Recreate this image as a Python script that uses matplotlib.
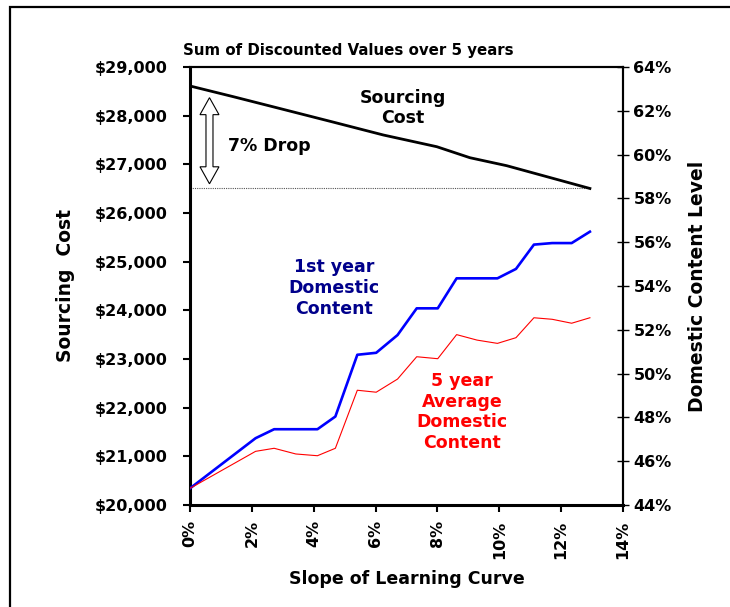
import numpy as np
import matplotlib
matplotlib.use('Agg')
import matplotlib.pyplot as plt
from matplotlib.patches import Polygon, Rectangle
from matplotlib.transforms import IdentityTransform
from matplotlib.ticker import FuncFormatter, MultipleLocator

# Sourcing cost (left axis, $)
cost_slope = [0.0, 1.40, 2.80, 4.58, 6.25, 7.98, 9.05, 10.24, 12.93]
cost_value = [28610, 28390, 28164, 27876, 27603, 27362, 27136, 26972, 26504]

# Domestic content (right axis, %) for both series
dc_slope = [0.0, 2.12, 2.72, 3.42, 4.12, 4.70, 5.41, 6.02, 6.71, 7.33,
            8.01, 8.62, 9.28, 9.94, 10.54, 11.12, 11.71, 12.34, 12.93]
first_year = [44.76, 47.05, 47.46, 47.46, 47.46, 48.04, 50.86, 50.95, 51.76, 52.98,
              52.98, 54.35, 54.35, 54.35, 54.78, 55.89, 55.96, 55.96, 56.48]
five_year_avg = [44.76, 46.45, 46.59, 46.33, 46.25, 46.59, 49.24, 49.15, 49.75, 50.77,
                 50.68, 51.78, 51.53, 51.38, 51.64, 52.55, 52.48, 52.30, 52.55]

plt.rcParams['font.family'] = ['DejaVu Sans']
plt.rcParams['font.weight'] = 'bold'

W, H = 730, 607
fig = plt.figure(figsize=(W / 100, H / 100), dpi=100)
ax = fig.add_axes([190 / W, 1 - 505 / H, 433 / W, 438 / H])
ax2 = ax.twinx()

# lines
ax.plot(cost_slope, cost_value, color='black', lw=2.0, zorder=3)
ax.axhline(cost_value[-1], xmin=0, xmax=cost_slope[-1] / 14, color='#555555',
           lw=0.8, ls=(0, (1, 1)), zorder=2)
ax2.plot(dc_slope, first_year, color='#0000FF', lw=1.9, zorder=3)
ax2.plot(dc_slope, five_year_avg, color='#FF0000', lw=0.8, zorder=3)

ax.set_xlim(0, 14)
ax.set_ylim(20000, 29000)
ax2.set_ylim(44, 64)

ax.xaxis.set_major_locator(MultipleLocator(2))
ax.yaxis.set_major_locator(MultipleLocator(1000))
ax2.yaxis.set_major_locator(MultipleLocator(2))
ax.xaxis.set_major_formatter(FuncFormatter(lambda v, p: f'{v:.0f}%'))
ax.yaxis.set_major_formatter(FuncFormatter(lambda v, p: f'${v:,.0f}'))
ax2.yaxis.set_major_formatter(FuncFormatter(lambda v, p: f'{v:.0f}%'))

tick_font = 11.5
ax.tick_params(axis='y', direction='out', length=5, width=1.5, pad=11, labelsize=tick_font)
ax.tick_params(axis='x', direction='out', length=5, width=1.5, pad=6, labelsize=tick_font,
               labelrotation=90)
ax2.tick_params(axis='y', direction='inout', length=9, width=1.0, pad=3, labelsize=tick_font)

for s in ['left', 'bottom']:
    ax.spines[s].set_linewidth(2.2)
for s in ['top', 'right']:
    ax.spines[s].set_linewidth(1.5)
    ax2.spines[s].set_linewidth(1.5)
ax2.spines['left'].set_visible(False)
ax2.spines['bottom'].set_visible(False)

ax.set_xlabel('Slope of Learning Curve', fontsize=12.5, fontweight='bold', labelpad=8)
ax.set_ylabel('Sourcing  Cost', fontsize=13.5, fontweight='bold', labelpad=14)
ax2.set_ylabel('Domestic Content Level', fontsize=13.5, fontweight='bold', labelpad=12)

fig.text(183 / W, 1 - 50 / H, 'Sum of Discounted Values over 5 years',
         fontsize=10.8, fontweight='bold', ha='left', va='center')


def fpos(px, py):
    return px / W, 1 - py / H


fig.text(*fpos(403, 108), 'Sourcing\nCost', fontsize=12.5, fontweight='bold',
         ha='center', va='center', color='black')
fig.text(*fpos(228, 146), '7% Drop', fontsize=12.5, fontweight='bold',
         ha='left', va='center', color='black')
fig.text(*fpos(334, 288), '1st year\nDomestic\nContent', fontsize=12.5, fontweight='bold',
         ha='center', va='center', color='#00008B')
fig.text(*fpos(462, 412), '5 year\nAverage\nDomestic\nContent', fontsize=12.5,
         fontweight='bold', ha='center', va='center', color='#FF0000')

# hollow double arrow marking the drop
xt, yt = ax.transData.transform((0.63, 28370))
_, yb = ax.transData.transform((0.63, 26600))
hw, sw, hl = 9.5, 3.5, 17
pts = [(xt, yt), (xt + hw, yt - hl), (xt + sw, yt - hl), (xt + sw, yb + hl),
       (xt + hw, yb + hl), (xt, yb), (xt - hw, yb + hl), (xt - sw, yb + hl),
       (xt - sw, yt - hl), (xt - hw, yt - hl)]
arrow = Polygon(pts, closed=True, facecolor='white', edgecolor='black', lw=0.8,
                transform=IdentityTransform(), zorder=5)
fig.add_artist(arrow)

# outer frame (cut off at the right and bottom like the original)
fig.add_artist(Rectangle((10 / W, -0.2), 1.5, 1.2 - 7 / H + 0.0,
                         transform=fig.transFigure, fill=False, edgecolor='black',
                         lw=1.6, clip_on=False))

fig.savefig('out.png', dpi=100)
